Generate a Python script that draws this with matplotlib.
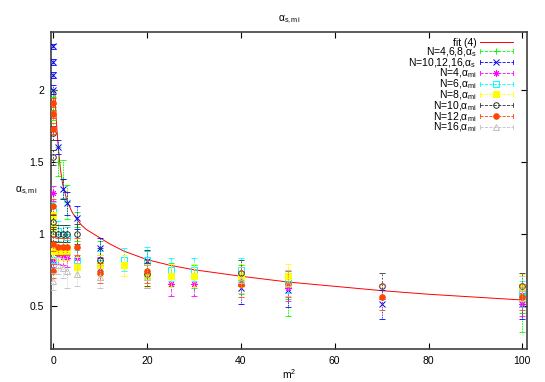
import matplotlib
matplotlib.use("Agg")
import matplotlib.pyplot as plt
from matplotlib.lines import Line2D
from matplotlib.legend_handler import HandlerBase

plt.rcParams['font.family'] = ['Liberation Sans', 'DejaVu Sans']
plt.rcParams['mathtext.fontset'] = 'custom'
plt.rcParams['mathtext.rm'] = 'Liberation Sans'
plt.rcParams['mathtext.it'] = 'Liberation Sans'

# ---- data ----
fit_x = [0.3, 0.6, 1, 1.5, 2, 3, 4, 5, 6, 7, 8, 10, 12, 15, 20, 25, 30, 40, 50, 60, 70, 80, 90, 100]
fit_y = [2.00, 1.80, 1.62, 1.45, 1.34, 1.22, 1.15, 1.10, 1.06, 1.03, 1.01, 0.97, 0.93, 0.88,
         0.82, 0.78, 0.75, 0.705, 0.665, 0.635, 0.605, 0.58, 0.56, 0.54]

g_x = [0, 0, 1, 2, 3, 5, 10, 20, 25, 30, 40, 50, 100]
g_y = [1.95, 1.85, 1.50, 1.38, 1.22, 1.05, 0.85, 0.78, 0.72, 0.70, 0.68, 0.55, 0.45]
g_e = [0.05, 0.06, 0.10, 0.13, 0.12, 0.10, 0.10, 0.10, 0.08, 0.08, 0.10, 0.12, 0.13]

b_x = [0, 0, 0, 0, 1, 2, 3, 5, 10, 20, 40, 50, 70, 100]
b_y = [2.30, 2.19, 2.10, 2.00, 1.60, 1.31, 1.21, 1.11, 0.90, 0.81, 0.62, 0.61, 0.51, 0.51]
b_e = [0.02, 0.02, 0.02, 0.03, 0.05, 0.07, 0.08, 0.08, 0.07, 0.08, 0.11, 0.12, 0.10, 0.10]

m_x = [0, 0, 1, 2, 3, 5, 10, 20, 25, 30, 50, 100]
m_y = [1.28, 0.82, 0.85, 0.84, 0.83, 0.83, 0.76, 0.70, 0.65, 0.65, 0.62, 0.51]
m_e = [0.05, 0.05, 0.06, 0.06, 0.06, 0.07, 0.08, 0.08, 0.08, 0.08, 0.09, 0.08]

c_x = [0, 0, 1, 2, 3, 5, 10, 15, 20, 25, 30, 40, 50, 100]
c_y = [1.16, 0.82, 1.02, 0.99, 0.98, 0.82, 0.80, 0.82, 0.82, 0.75, 0.75, 0.75, 0.67, 0.58]
c_e = [0.06, 0.06, 0.07, 0.07, 0.07, 0.07, 0.08, 0.08, 0.09, 0.08, 0.08, 0.08, 0.08, 0.09]

y_x = [0, 0, 0, 1, 2, 3, 5, 10, 15, 20, 25, 30, 40, 50, 100]
y_y = [1.13, 1.05, 0.88, 0.88, 0.88, 0.88, 0.77, 0.78, 0.78, 0.71, 0.71, 0.71, 0.71, 0.71, 0.63]
y_e = [0.05, 0.05, 0.05, 0.06, 0.06, 0.06, 0.07, 0.07, 0.07, 0.08, 0.08, 0.08, 0.08, 0.08, 0.09]

k_x = [0, 0, 0, 0, 1, 2, 3, 5, 10, 20, 40, 70, 100]
k_y = [1.70, 1.53, 1.08, 1.00, 1.00, 1.00, 1.00, 1.00, 0.82, 0.72, 0.73, 0.64, 0.64]
k_e = [0.05, 0.05, 0.05, 0.05, 0.06, 0.06, 0.06, 0.07, 0.08, 0.08, 0.09, 0.09, 0.09]

o_x = [0, 0, 0, 0, 0, 0, 1, 2, 3, 5, 10, 20, 40, 50, 70, 100]
o_y = [1.91, 1.83, 1.73, 1.19, 0.93, 0.74, 0.91, 0.91, 0.91, 0.91, 0.73, 0.74, 0.65, 0.65, 0.56, 0.56]
o_e = [0.03, 0.03, 0.04, 0.05, 0.05, 0.05, 0.06, 0.06, 0.06, 0.06, 0.07, 0.08, 0.09, 0.09, 0.09, 0.09]

t_x = [0, 1, 2, 3, 5, 10, 20, 40, 50, 100]
t_y = [0.67, 0.78, 0.76, 0.74, 0.72, 0.70, 0.70, 0.68, 0.66, 0.62]
t_e = [0.06, 0.06, 0.07, 0.12, 0.08, 0.08, 0.08, 0.09, 0.09, 0.09]

x_ticks = [0, 20, 40, 60, 80, 100]
y_ticks = [0.5, 1, 1.5, 2]

series = [
    (g_x, g_y, g_e, 'N=4,6,8,α$_\\mathrm{s}$', '#00ff00', (0, (2, 1)), '+', 'none', 4.5),
    (b_x, b_y, b_e, 'N=10,12,16,α$_\\mathrm{s}$', '#0000ff', (0, (1, 1)), 'x', 'none', 3.8),
    (m_x, m_y, m_e, 'N=4,α$_\\mathrm{mi}$', '#ff00ff', (0, (3, 1, 1, 1)), (8, 2, 0), 'none', 4.5),
    (c_x, c_y, c_e, 'N=6,α$_\\mathrm{mi}$', '#00ffff', (0, (3, 1, 1, 1, 1, 1)), 's', 'none', 4),
    (y_x, y_y, y_e, 'N=8,α$_\\mathrm{mi}$', '#ffff00', (0, (4, 1, 1, 1)), 's', 'full', 4),
    (k_x, k_y, k_e, 'N=10,α$_\\mathrm{mi}$', '#303030', (0, (2, 2)), 'o', 'none', 4),
    (o_x, o_y, o_e, 'N=12,α$_\\mathrm{mi}$', '#ff4500', (0, (1, 2)), 'o', 'full', 4),
    (t_x, t_y, t_e, 'N=16,α$_\\mathrm{mi}$', '#c0c0c0', (0, (1, 1.5)), '^', 'none', 4),
]


class GnuHandler(HandlerBase):
    def create_artists(self, legend, orig, xd, yd, width, height, fontsize, trans):
        y = height / 2.0 - yd
        x0, x1 = -xd, width - xd
        arts = []
        ln = Line2D([x0, x1], [y, y], color=orig.get_color(),
                    linestyle=orig.get_linestyle(), lw=orig.get_linewidth())
        arts.append(ln)
        if orig.get_marker() not in (None, 'None', '', ' '):
            for xx in (x0, x1):
                arts.append(Line2D([xx, xx], [y - 1.5, y + 1.5], color=orig.get_color(),
                                   lw=orig.get_linewidth()))
            mk = Line2D([(x0 + x1) / 2], [y], marker=orig.get_marker(),
                        color=orig.get_color(), markersize=orig.get_markersize(),
                        markerfacecolor=orig.get_markerfacecolor(),
                        markeredgewidth=orig.get_markeredgewidth(), linestyle='none')
            arts.append(mk)
        for a in arts:
            a.set_transform(trans)
        return arts


fig = plt.figure(figsize=(5.45, 3.82), dpi=100)
ax = fig.add_axes([51 / 545, 1 - 349 / 382, 476 / 545, 317 / 382])

handles = []
ax.plot(fit_x, fit_y, color='#ff0000', lw=0.7, zorder=3)
handles.append((Line2D([], [], color='#ff0000', lw=0.7), 'fit (4)'))

for i, (xs, ys, es, lab, col, ls, mk, fill, ms) in enumerate(series):
    mfc = col if fill == 'full' else 'none'
    eb = ax.errorbar(xs, ys, yerr=es, fmt='none', ecolor=col, elinewidth=0.6,
                     capsize=2, capthick=0.6, zorder=4 + i)
    for lc in eb[2]:
        lc.set_linestyle(ls)
    ax.plot(xs, ys, linestyle='none', marker=mk, color=col, markerfacecolor=mfc,
            markeredgecolor=col, markersize=ms, markeredgewidth=0.7, zorder=4 + i)
    handles.append((Line2D([], [], color=col, linestyle=ls, lw=0.6, marker=mk,
                           markerfacecolor=mfc, markersize=ms, markeredgewidth=0.7), lab))

ax.set_xlim(-0.5, 101)
ax.set_ylim(0.2, 2.4)
ax.set_xticks(x_ticks)
ax.set_yticks(y_ticks)
ax.set_yticklabels(['0.5', '1', '1.5', '2'])
ax.tick_params(direction='in', top=True, right=True, length=4, width=0.8,
               labelsize=7.5, pad=5, colors='black')
for sp in ax.spines.values():
    sp.set_color('#404040')
    sp.set_linewidth(1.2)

ax.set_title('α$_\\mathrm{s,mi}$', fontsize=7.5, pad=8)
ax.set_xlabel('m$^\\mathrm{2}$', fontsize=7.5, labelpad=1)
ax.set_ylabel('α$_\\mathrm{s,mi}$', fontsize=7.5, rotation=0, ha='center', va='center')
ax.yaxis.set_label_coords(-0.053, 0.5)

hm = {h: GnuHandler() for h, _ in handles}
leg = ax.legend([h for h, _ in handles], [l for _, l in handles], handler_map=hm,
                loc='upper right', bbox_to_anchor=(1 - 14 / 476, 1 - 6 / 317),
                borderaxespad=0, frameon=False, markerfirst=False, fontsize=7.5,
                handlelength=3.2, handletextpad=0.3, labelspacing=-0.27,
                borderpad=0)
for t in leg.get_texts():
    t.set_ha('right')

fig.savefig('out.png', dpi=100)
